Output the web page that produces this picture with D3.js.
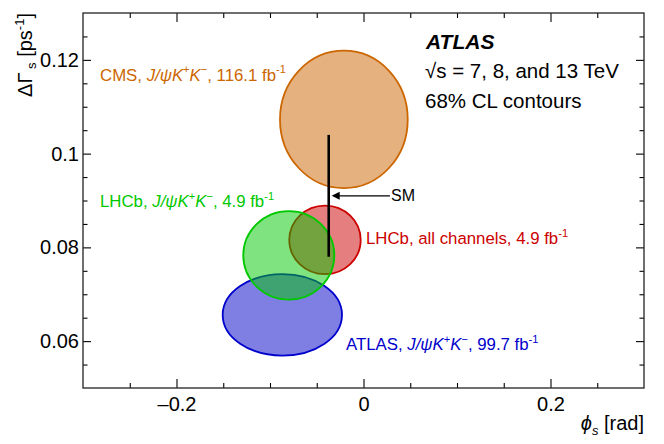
<!DOCTYPE html>
<html>
<head>
<meta charset="utf-8">
<script src="https://cdn.jsdelivr.net/npm/d3@7"></script>
<style>
  body { margin: 0; background: #fff; }
  svg text { font-family: "Liberation Sans", Arial, Helvetica, sans-serif; }
</style>
</head>
<body>
<div id="chart"></div>
<script>
// 68% CL contours, drawn in this order (green sits on top)
var contourNames = ["CMS", "ATLAS", "LHCb all", "LHCb JpsiKK"];
var phiCentre    = [-0.021, -0.0868, -0.0412, -0.0799];
var dgCentre     = [0.1073, 0.0656, 0.0816, 0.0783];
var phiHalfWidth = [0.0683, 0.0638, 0.0382, 0.0487];
var dgHalfWidth  = [0.01466, 0.00868, 0.00732, 0.00943];
var lineColours  = ["#cc6600", "#0000cc", "#cc0000", "#00c800"];
var fillColours  = ["rgba(204,102,0,0.5)", "rgba(0,0,200,0.5)", "rgba(204,0,0,0.5)", "rgba(0,200,0,0.5)"];

// Standard Model prediction
var smPhi = -0.0372;
var smDG = [0.078, 0.104];
var smArrowDG = 0.091;
var smArrowTailPhi = 0.0283;

var xMajor = [-0.2, 0, 0.2];
var xMinor = [-0.25, -0.15, -0.1, -0.05, 0.05, 0.1, 0.15, 0.25];
var yMajor = [0.06, 0.08, 0.1, 0.12];
var yMinor = [0.055, 0.065, 0.07, 0.075, 0.085, 0.09, 0.095, 0.105, 0.11, 0.115, 0.125];

// label anchors (data coords) and text pieces
var labelPhi = [-0.2818, -0.0187, 0.0027, -0.2818];
var labelDG  = [0.1156, 0.0582, 0.0807, 0.0886];
var labelParts = [
  [["CMS, "], ["J/\u03c8K", "it"], ["+", "sup"], ["K", "it"], ["\u2212", "sup"], [", 116.1 fb"], ["-1", "sup"]],
  [["ATLAS, "], ["J/\u03c8K", "it"], ["+", "sup"], ["K", "it"], ["\u2212", "sup"], [", 99.7 fb"], ["-1", "sup"]],
  [["LHCb, all channels, 4.9 fb"], ["-1", "sup"]],
  [["LHCb, "], ["J/\u03c8K", "it"], ["+", "sup"], ["K", "it"], ["\u2212", "sup"], [", 4.9 fb"], ["-1", "sup"]]
];

var width = 664, height = 444;
var margin = {left: 83, right: 20, top: 13, bottom: 56};

var svg = d3.select("#chart").append("svg")
    .attr("width", width)
    .attr("height", height);

var x = d3.scaleLinear().domain([-0.3, 0.3]).range([margin.left, width - margin.right]);
var y = d3.scaleLinear().domain([0.05, 0.13]).range([height - margin.bottom, margin.top]);

// contours
var idx = d3.range(contourNames.length);
svg.append("g").selectAll("ellipse")
    .data(idx)
    .join("ellipse")
    .attr("cx", function(i){ return x(phiCentre[i]); })
    .attr("cy", function(i){ return y(dgCentre[i]); })
    .attr("rx", function(i){ return x(phiCentre[i] + phiHalfWidth[i]) - x(phiCentre[i]); })
    .attr("ry", function(i){ return y(dgCentre[i]) - y(dgCentre[i] + dgHalfWidth[i]); })
    .attr("fill", function(i){ return fillColours[i]; })
    .attr("stroke", function(i){ return lineColours[i]; })
    .attr("stroke-width", 1.8);

// SM line
svg.append("line")
    .attr("x1", x(smPhi)).attr("x2", x(smPhi))
    .attr("y1", y(smDG[0])).attr("y2", y(smDG[1]))
    .attr("stroke", "#000")
    .attr("stroke-width", 2.6);

// SM arrow
var tipX = x(smPhi) + 3, ay = y(smArrowDG);
svg.append("line")
    .attr("x1", tipX + 7).attr("x2", x(smArrowTailPhi))
    .attr("y1", ay).attr("y2", ay)
    .attr("stroke", "#000").attr("stroke-width", 1.2);
svg.append("path")
    .attr("d", "M" + tipX + "," + ay + "L" + (tipX + 8) + "," + (ay - 4) + "L" + (tipX + 8) + "," + (ay + 4) + "Z")
    .attr("fill", "#000");
svg.append("text")
    .attr("x", x(smArrowTailPhi) + 1)
    .attr("y", ay + 5.5)
    .attr("font-size", 16)
    .text("SM");

// labels
function richText(sel, parts, size) {
  var shifted = false;
  parts.forEach(function(p){
    var t = sel.append("tspan").text(p[0]);
    if (p[1] == "it") t.attr("font-style", "italic");
    if (p[1] == "sup") {
      t.attr("font-size", size * 0.66).attr("dy", shifted ? 0 : -size * 0.42);
      shifted = true;
    } else {
      if (shifted) t.attr("dy", size * 0.42);
      shifted = false;
    }
  });
}
idx.forEach(function(i){
  var t = svg.append("text")
      .attr("x", x(labelPhi[i]))
      .attr("y", y(labelDG[i]))
      .attr("font-size", 16.8)
      .attr("fill", lineColours[i]);
  richText(t, labelParts[i], 16.8);
});

// axes (ticks inward, mirrored on top/right)
var fmt = function(d){ return (d < 0 ? "\u2013" : "") + Math.abs(d); };
var plotBottom = height - margin.bottom, plotRight = width - margin.right;

svg.append("g").attr("transform", "translate(0," + plotBottom + ")")
    .call(d3.axisBottom(x).tickValues(xMajor).tickSize(-9).tickPadding(9).tickFormat(fmt).tickSizeOuter(0));
svg.append("g").attr("transform", "translate(0," + plotBottom + ")")
    .call(d3.axisBottom(x).tickValues(xMinor).tickSize(-5).tickFormat("").tickSizeOuter(0));
svg.append("g").attr("transform", "translate(0," + margin.top + ")")
    .call(d3.axisTop(x).tickValues(xMajor).tickSize(-9).tickFormat("").tickSizeOuter(0));
svg.append("g").attr("transform", "translate(0," + margin.top + ")")
    .call(d3.axisTop(x).tickValues(xMinor).tickSize(-5).tickFormat("").tickSizeOuter(0));

svg.append("g").attr("transform", "translate(" + margin.left + ",0)")
    .call(d3.axisLeft(y).tickValues(yMajor).tickSize(-8).tickPadding(4).tickFormat(fmt).tickSizeOuter(0));
svg.append("g").attr("transform", "translate(" + margin.left + ",0)")
    .call(d3.axisLeft(y).tickValues(yMinor).tickSize(-4.5).tickFormat("").tickSizeOuter(0));
svg.append("g").attr("transform", "translate(" + plotRight + ",0)")
    .call(d3.axisRight(y).tickValues(yMajor).tickSize(-8).tickFormat("").tickSizeOuter(0));
svg.append("g").attr("transform", "translate(" + plotRight + ",0)")
    .call(d3.axisRight(y).tickValues(yMinor).tickSize(-4.5).tickFormat("").tickSizeOuter(0));

svg.selectAll(".tick text")
    .attr("font-size", 20)
    .attr("font-family", "'Liberation Sans', Arial, sans-serif")
    .attr("fill", "#000");
svg.selectAll(".domain").remove();
svg.selectAll(".tick line").attr("stroke", "#000").attr("stroke-width", 1.1);

svg.append("rect")
    .attr("x", margin.left).attr("y", margin.top)
    .attr("width", plotRight - margin.left)
    .attr("height", plotBottom - margin.top)
    .attr("fill", "none")
    .attr("stroke", "#222")
    .attr("stroke-width", 1.3);

// axis titles
var xt = svg.append("text")
    .attr("x", plotRight).attr("y", 430)
    .attr("text-anchor", "end")
    .attr("font-size", 20);
xt.append("tspan").attr("font-style", "italic").text("\u03d5");
xt.append("tspan").attr("font-style", "italic").attr("font-size", 13).attr("dy", 5).text("s");
xt.append("tspan").attr("dy", -5).text(" [rad]");

var yt = svg.append("text")
    .attr("transform", "translate(32," + margin.top + ") rotate(-90)")
    .attr("text-anchor", "end")
    .attr("font-size", 20);
yt.append("tspan").text("\u0394\u0393");
yt.append("tspan").attr("font-size", 13).attr("dy", 4).text(" s");
yt.append("tspan").attr("dy", -4).text(" [ps");
yt.append("tspan").attr("font-size", 13).attr("dy", -8).text("-1");
yt.append("tspan").attr("dy", 8).text("]");

// ATLAS block
svg.append("text")
    .attr("x", 426).attr("y", 49)
    .attr("font-size", 21)
    .attr("font-weight", "bold")
    .attr("font-style", "italic")
    .text("ATLAS");
svg.append("text")
    .attr("x", 425).attr("y", 78)
    .attr("font-size", 20.5)
    .text("\u221as = 7, 8, and 13 TeV");
svg.append("text")
    .attr("x", 425).attr("y", 108)
    .attr("font-size", 20.5)
    .text("68% CL contours");
</script>
</body>
</html>
